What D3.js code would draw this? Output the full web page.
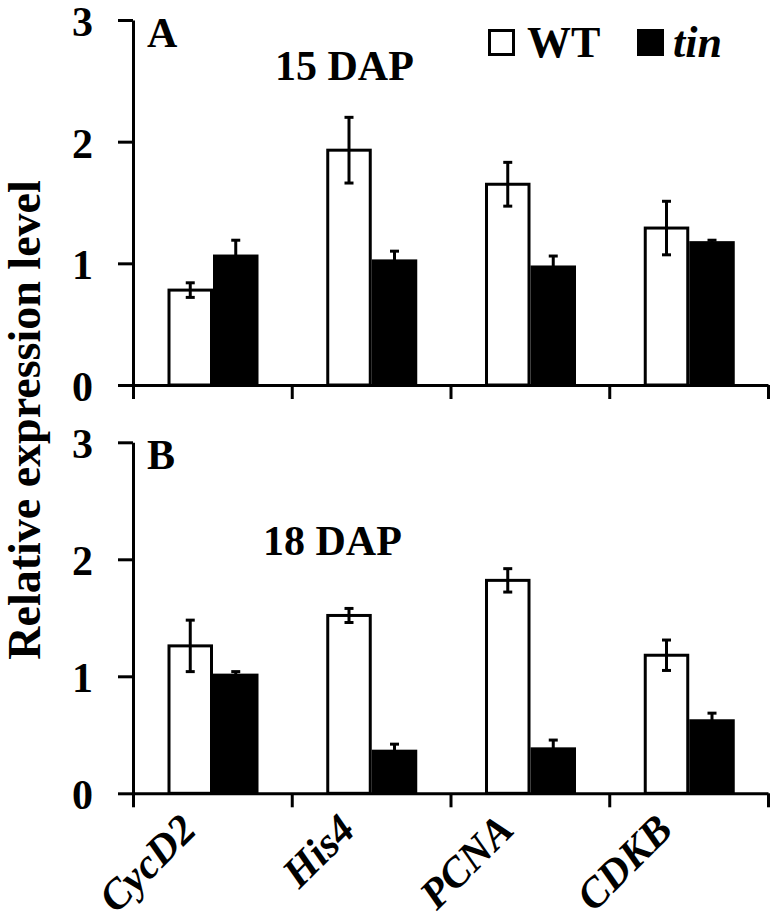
<!DOCTYPE html>
<html>
<head>
<meta charset="utf-8">
<script src="https://cdn.jsdelivr.net/npm/d3@7"></script>
<style>
  body { margin: 0; background: #fff; }
</style>
</head>
<body>
<script>
const genes = ['CycD2', 'His4', 'PCNA', 'CDKB'];
const series = ['WT', 'tin'];

// panel A, 15 DAP
const wt15 = [0.78, 1.93, 1.65, 1.29];
const wt15Err = [0.06, 0.27, 0.18, 0.22];
const tin15 = [1.06, 1.02, 0.97, 1.17];
const tin15Err = [0.13, 0.08, 0.09, 0.02];

// panel B, 18 DAP
const wt18 = [1.26, 1.52, 1.82, 1.18];
const wt18Err = [0.22, 0.06, 0.10, 0.13];
const tin18 = [1.01, 0.36, 0.38, 0.62];
const tin18Err = [0.03, 0.06, 0.075, 0.065];

const yTicks = [0, 1, 2, 3];

const FONT = "'Liberation Serif', 'Times New Roman', Times, serif";
const width = 775, height = 924;
const left = 133, right = 768;

const svg = d3.select('body')
  .append('svg')
  .attr('width', width)
  .attr('height', height);

const x0 = d3.scaleBand().domain(genes).range([left, right]);
const x1 = d3.scaleBand().domain(series).range([34.5, 125.5]);
const xEdges = d3.scaleLinear().domain([0, genes.length]).range([left, right]);

const panels = [
  { label: 'A', title: '15 DAP', top: 20, bottom: 385, wt: wt15, wtErr: wt15Err, tin: tin15, tinErr: tin15Err,
    titleX: 275, titleY: 80 },
  { label: 'B', title: '18 DAP', top: 442.3, bottom: 793.3, wt: wt18, wtErr: wt18Err, tin: tin18, tinErr: tin18Err,
    titleX: 263, titleY: 555 }
];

panels.forEach((p) => {
  const y = d3.scaleLinear().domain([0, 3]).range([p.bottom, p.top]);
  const g = svg.append('g');

  const rows = genes.map((gene, i) => [
    { gene: gene, s: 'WT', v: p.wt[i], e: p.wtErr[i] },
    { gene: gene, s: 'tin', v: p.tin[i], e: p.tinErr[i] }
  ]).flat();

  g.selectAll('rect.bar')
    .data(rows)
    .enter()
    .append('rect')
    .attr('class', 'bar')
    .attr('x', (d) => x0(d.gene) + x1(d.s) + 1.5)
    .attr('width', x1.bandwidth() - 3)
    .attr('y', (d) => y(d.v))
    .attr('height', (d) => y(0) - y(d.v))
    .attr('fill', (d) => d.s === 'WT' ? '#fff' : '#000')
    .attr('stroke', '#000')
    .attr('stroke-width', 3);

  // error bars
  const eb = g.selectAll('g.err')
    .data(rows)
    .enter()
    .append('g')
    .attr('class', 'err')
    .attr('stroke', '#000')
    .attr('stroke-width', 3);
  const cx = (d) => x0(d.gene) + x1(d.s) + x1.bandwidth() / 2;
  eb.append('line')
    .attr('x1', cx).attr('x2', cx)
    .attr('y1', (d) => y(d.v + d.e)).attr('y2', (d) => y(d.v - d.e));
  eb.append('line')
    .attr('x1', (d) => cx(d) - 4.5).attr('x2', (d) => cx(d) + 4.5)
    .attr('y1', (d) => y(d.v + d.e)).attr('y2', (d) => y(d.v + d.e));
  eb.append('line')
    .attr('x1', (d) => cx(d) - 4.5).attr('x2', (d) => cx(d) + 4.5)
    .attr('y1', (d) => y(d.v - d.e)).attr('y2', (d) => y(d.v - d.e));

  // y axis
  const yAxis = g.append('g')
    .attr('transform', 'translate(' + left + ',0)')
    .call(d3.axisLeft(y).tickValues(yTicks).tickFormat(d3.format('d')).tickSize(15).tickSizeOuter(0).tickPadding(25))
    .attr('font-family', FONT)
    .attr('font-size', 42)
    .attr('font-weight', 'bold');
  yAxis.selectAll('path, line').attr('stroke', '#000').attr('stroke-width', 3);
  yAxis.selectAll('text').attr('fill', '#000').attr('dy', '0.37em');

  // x axis with ticks at category boundaries
  const xAxis = g.append('g')
    .attr('transform', 'translate(0,' + p.bottom + ')')
    .call(d3.axisBottom(xEdges).tickValues(d3.range(genes.length + 1)).tickFormat('').tickSize(14).tickSizeOuter(0));
  xAxis.selectAll('path, line').attr('stroke', '#000').attr('stroke-width', 3);

  g.append('text')
    .attr('x', 147)
    .attr('y', p.top + 27)
    .attr('font-family', FONT)
    .attr('font-weight', 'bold')
    .attr('font-size', 42)
    .text(p.label);

  g.append('text')
    .attr('x', p.titleX)
    .attr('y', p.titleY)
    .attr('font-family', FONT)
    .attr('font-weight', 'bold')
    .attr('font-size', 42)
    .text(p.title);
});

// category labels
svg.append('g')
  .selectAll('text')
  .data(genes)
  .enter()
  .append('text')
  .attr('transform', (d) => 'translate(' + (x0(d) + x0.bandwidth() / 2 - 14) + ',832) rotate(-45)')
  .attr('text-anchor', 'end')
  .attr('font-family', FONT)
  .attr('font-weight', 'bold')
  .attr('font-size', 42)
  .attr('font-style', 'italic')
  .text((d) => d);

// y title
svg.append('text')
  .attr('transform', 'translate(40,420) rotate(-90)')
  .attr('text-anchor', 'middle')
  .attr('font-family', FONT)
  .attr('font-weight', 'bold')
  .attr('font-size', 46)
  .text('Relative expression level');

// legend
const legendX = [488, 637];
const legend = svg.append('g')
  .selectAll('g')
  .data(series)
  .enter()
  .append('g')
  .attr('transform', (d, i) => 'translate(' + legendX[i] + ',29)');
legend.append('rect')
  .attr('x', 1.5).attr('y', 1.5)
  .attr('width', 24).attr('height', 24)
  .attr('fill', (d) => d === 'WT' ? '#fff' : '#000')
  .attr('stroke', '#000')
  .attr('stroke-width', 3);
legend.append('text')
  .attr('x', (d) => d === 'WT' ? 39 : 36)
  .attr('y', 28)
  .attr('font-family', FONT)
  .attr('font-weight', 'bold')
  .attr('font-size', 44)
  .attr('font-style', (d) => d === 'WT' ? 'normal' : 'italic')
  .text((d) => d);
</script>
</body>
</html>
